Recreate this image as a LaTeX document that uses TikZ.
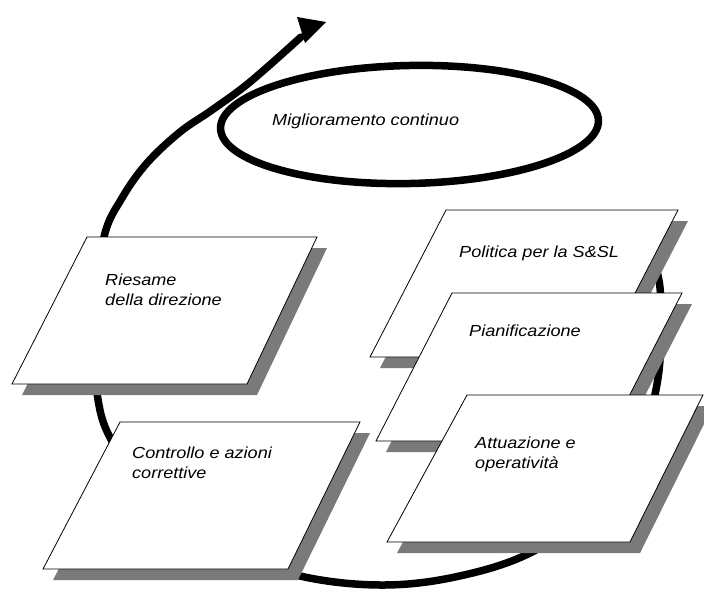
\documentclass[tikz,border=0pt]{standalone}
\usepackage{fontspec}
\newfontfamily\lab[FakeStretch=1.13]{Liberation Sans Italic}
\begin{document}
\begin{tikzpicture}[x=1pt,y=-1pt,
  loopline/.style={line width=7.5pt, black, line cap=round},
  boxshape/.style={draw=black, line width=0.8pt, fill=white},
  shadowshape/.style={fill=black!52},
  lbl/.style={font=\lab\fontsize{16}{20}\selectfont, anchor=base west, inner sep=0pt, align=left}
]
\useasboundingbox (0,0) rectangle (704,592);
\fill[white] (0,0) rectangle (704,592);

% the big loop with its arrow
\draw[loopline] plot[smooth, tension=0.6] coordinates {(636,228) (655,265) (661,305) (658,378) (640,440) (600,505) (530,553) (455,577) (380,585) (300,576) (225,550) (160,505) (113,443) (97,393) (94,315) (104,237) (122,198) (147,163) (180,132) (212,110) (250,82) (301,37)};
\fill (297,17) -- (326,22) -- (305,43) -- cycle;

% continuous improvement ellipse
\draw[line width=7.5pt, rotate around={1.2:(409.5,124.5)}] (409.5,124.5) ellipse [x radius=189pt, y radius=59pt];
\node[lbl] (mig) at (272,125) {Miglioramento continuo};

% Riesame della direzione
\fill[shadowshape, shift={(10,11)}] (87,237) -- (317,237) -- (247,384) -- (12,384) -- cycle;
\draw[boxshape] (87,237) -- (317,237) -- (247,384) -- (12,384) -- cycle;
\node[lbl] (ries) at (105,305) {Riesame\\della direzione};

% Controllo e azioni correttive
\fill[shadowshape, shift={(10,11)}] (120,422) -- (360,422) -- (288,569) -- (43,569) -- cycle;
\draw[boxshape] (120,422) -- (360,422) -- (288,569) -- (43,569) -- cycle;
\node[lbl] (contr) at (132,478) {Controllo e azioni\\correttive};

% Politica per la S&SL
\fill[shadowshape, shift={(10,11)}] (446,210) -- (678,210) -- (602,357) -- (370,357) -- cycle;
\draw[boxshape] (446,210) -- (678,210) -- (602,357) -- (370,357) -- cycle;
\node[lbl] (pol) at (459,257) {Politica per la S\&SL};

% Pianificazione
\fill[shadowshape, shift={(10,11)}] (452,293) -- (682,293) -- (606,441) -- (376,441) -- cycle;
\draw[boxshape] (452,293) -- (682,293) -- (606,441) -- (376,441) -- cycle;
\node[lbl] (pian) at (469,336) {Pianificazione};

% Attuazione e operativita
\fill[shadowshape, shift={(10,11)}] (467,395) -- (703,395) -- (630,542) -- (387,542) -- cycle;
\draw[boxshape] (467,395) -- (703,395) -- (630,542) -- (387,542) -- cycle;
\node[lbl] (att) at (475,468) {Attuazione e\\operatività};
\end{tikzpicture}
\end{document}
